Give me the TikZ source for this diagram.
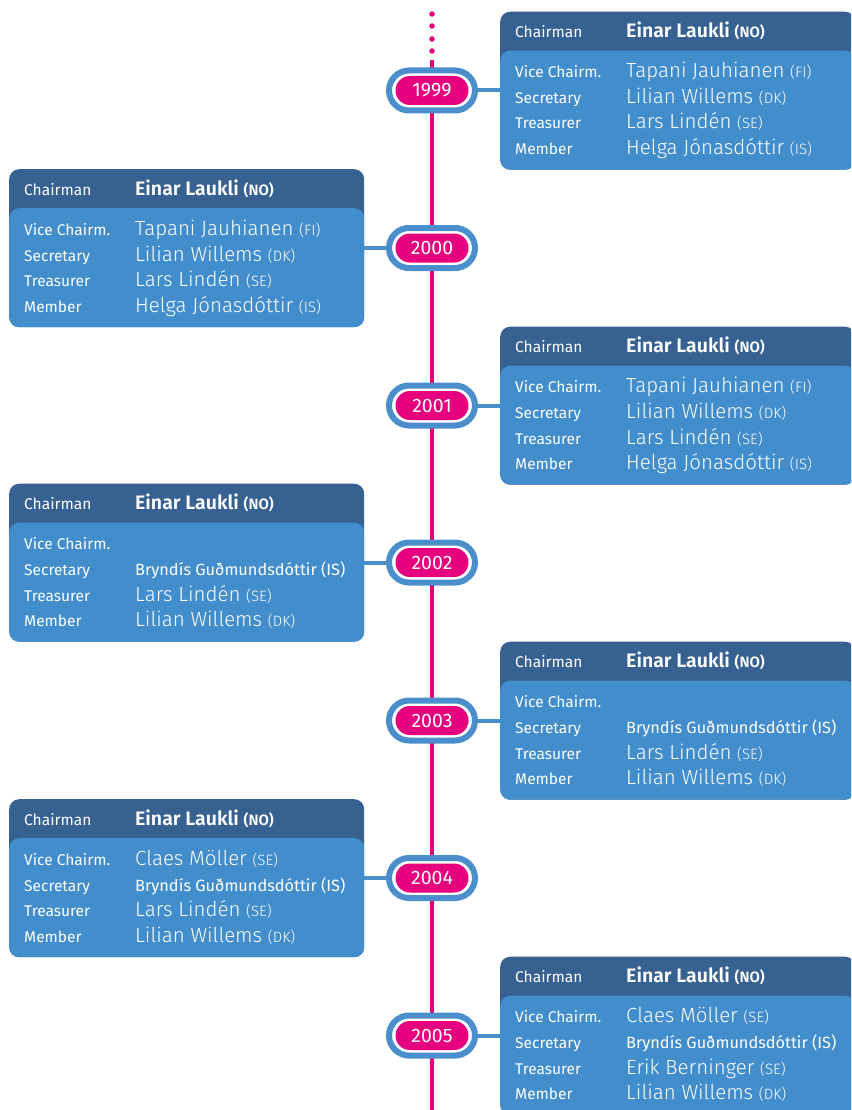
\documentclass[tikz,border=0pt]{standalone}
\usepackage{fontspec}
\setmainfont{Fira Sans Light}[BoldFont={Fira Sans SemiBold}]
\newfontfamily\regfont{Fira Sans}
\definecolor{hdrblue}{RGB}{55,97,145}
\definecolor{bodyblue}{RGB}{66,141,204}
\definecolor{ringblue}{RGB}{74,142,204}
\definecolor{tlpink}{RGB}{230,0,126}
\newcommand\ctry[1]{{\fontsize{15}{15}\selectfont(#1)}}
\newcommand\smname{\regfont\fontsize{16.3}{16.3}\selectfont}

\begin{document}
\begin{tikzpicture}[x=1pt, y=-1pt,
    hdr/.style={rectangle, rounded corners=10pt, fill=hdrblue, inner sep=0pt,
        minimum width=355pt, minimum height=158pt, anchor=north west},
    panel/.style={rectangle, rounded corners=10pt, fill=bodyblue, inner sep=0pt,
        minimum width=355pt, minimum height=119pt, anchor=south west},
    ring/.style={rectangle, rounded corners=20pt, draw=ringblue, line width=6pt,
        fill=white, minimum width=86pt, minimum height=40pt},
    pill/.style={rectangle, rounded corners=14.5pt, fill=tlpink, text=white,
        minimum width=73pt, minimum height=29pt, inner sep=0pt,
        font=\regfont\fontsize{19.5}{19.5}\selectfont},
    dot/.style={circle, fill=tlpink, minimum size=5.5pt, inner sep=0pt},
    tl/.style={draw=tlpink, line width=4pt},
    link/.style={draw=ringblue, line width=4pt},
    lab/.style={anchor=base west, inner sep=0pt, text=white,
        font=\regfont\fontsize{15.5}{15.5}\selectfont},
    who/.style={anchor=base west, inner sep=0pt, text=white,
        font=\fontsize{20.5}{20.5}\selectfont},
    chief/.style={anchor=base west, inner sep=0pt, text=white,
        font=\bfseries\fontsize{19.5}{19.5}\selectfont}
]
    \clip (0,0) rectangle (851,1110);
    \fill[white] (0,0) rectangle (851,1110);
    % timeline
    \coordinate (lt) at (432,60);
    \coordinate (lb) at (432,1115);
    \draw[tl] (lt) -- (lb);
    \foreach \d in {14,26,39,51}
        \node[dot] (d\d) at (432,\d) {};
    % years
    \foreach \yr/\yc in {1999/90.5,2000/248,2001/405.5,2002/562.5,2003/720.5,2004/878,2005/1035.5}
        \node[ring] (r\yr) at (432,\yc) {};
    % boards
    \foreach \yr/\yc/\bx/\sa/\sb/\vc/\sc/\tr/\mb in {
        1999/90.5/500/east/west/{Tapani Jauhianen \ctry{FI}}/{Lilian Willems \ctry{DK}}/{Lars Lindén \ctry{SE}}/{Helga Jónasdóttir \ctry{IS}},
        2000/248/9/west/east/{Tapani Jauhianen \ctry{FI}}/{Lilian Willems \ctry{DK}}/{Lars Lindén \ctry{SE}}/{Helga Jónasdóttir \ctry{IS}},
        2001/405.5/500/east/west/{Tapani Jauhianen \ctry{FI}}/{Lilian Willems \ctry{DK}}/{Lars Lindén \ctry{SE}}/{Helga Jónasdóttir \ctry{IS}},
        2002/562.5/9/west/east/{}/{\smname Bryndís Guðmundsdóttir (IS)}/{Lars Lindén \ctry{SE}}/{Lilian Willems \ctry{DK}},
        2003/720.5/500/east/west/{}/{\smname Bryndís Guðmundsdóttir (IS)}/{Lars Lindén \ctry{SE}}/{Lilian Willems \ctry{DK}},
        2004/878/9/west/east/{Claes Möller \ctry{SE}}/{\smname Bryndís Guðmundsdóttir (IS)}/{Lars Lindén \ctry{SE}}/{Lilian Willems \ctry{DK}},
        2005/1035.5/500/east/west/{Claes Möller \ctry{SE}}/{\smname Bryndís Guðmundsdóttir (IS)}/{Erik Berninger \ctry{SE}}/{Lilian Willems \ctry{DK}}}
    {
        \node[hdr] (h\yr) at (\bx,\yc-79) {};
        \node[panel] (b\yr) at (h\yr.south west) {};
        \draw[link] (r\yr.\sa) -- (r\yr.\sa -| b\yr.\sb);
        \node[pill] (p\yr) at (r\yr) {\yr};
        \node[lab] (lc\yr) at (\bx+15,\yc-53) {Chairman};
        \node[chief] (c\yr) at (\bx+126,\yc-53) {Einar Laukli \ctry{NO}};
        \node[lab] (lv\yr) at (\bx+15,\yc-13) {Vice Chairm.};
        \node[who] (v\yr) at (\bx+126,\yc-13) {\vc};
        \node[lab] (ls\yr) at (\bx+15,\yc+13) {Secretary};
        \node[who] (s\yr) at (\bx+126,\yc+13) {\sc};
        \node[lab] (lt\yr) at (\bx+15,\yc+38.5) {Treasurer};
        \node[who] (t\yr) at (\bx+126,\yc+38.5) {\tr};
        \node[lab] (lm\yr) at (\bx+15,\yc+64) {Member};
        \node[who] (m\yr) at (\bx+126,\yc+64) {\mb};
    }
\end{tikzpicture}
\end{document}
